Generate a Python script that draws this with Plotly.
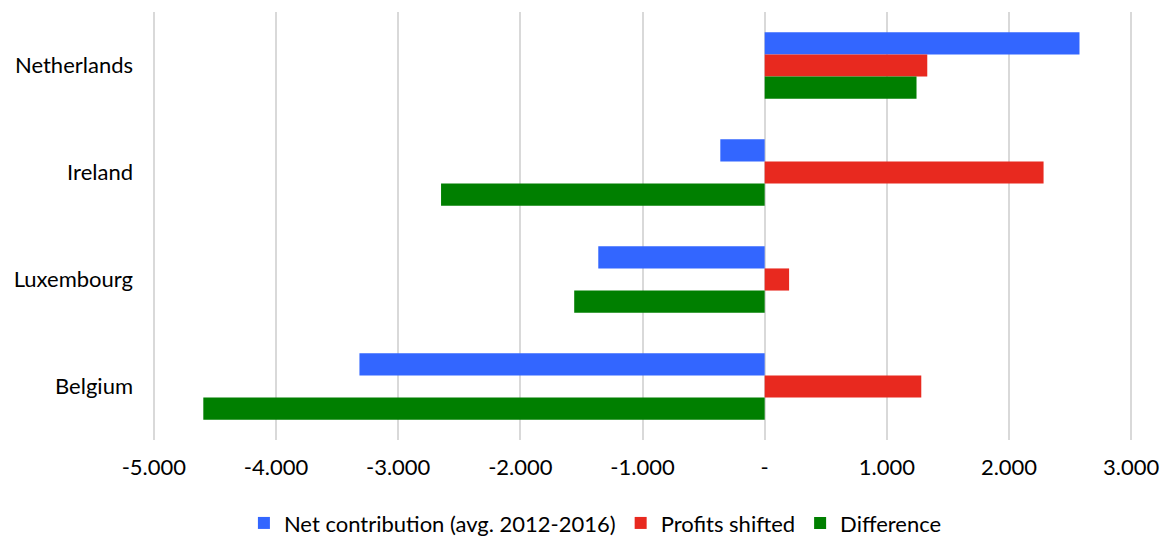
import plotly.graph_objects as go

countries = ["Netherlands", "Ireland", "Luxembourg", "Belgium"]
net_contribution = [2577, -363, -1362, -3317]
profits_shifted = [1331, 2283, 200, 1282]
difference = [1243, -2649, -1559, -4595]

tick_vals = [-5000, -4000, -3000, -2000, -1000, 0, 1000, 2000, 3000]
tick_text = ["-5.000", "-4.000", "-3.000", "-2.000", "-1.000", "-", "1.000", "2.000", "3.000"]

series = [
    ("Net contribution (avg. 2012-2016)", net_contribution, "#3366FF"),
    ("Profits shifted", profits_shifted, "#E8291F"),
    ("Difference", difference, "#007F00"),
]

fig = go.Figure()
for name, vals, color in series:
    fig.add_trace(go.Bar(
        y=countries, x=vals, name=name, orientation="h",
        marker=dict(color=color, line=dict(width=0)),
    ))

font_family = "Lato, 'Open Sans', sans-serif"

fig.update_layout(
    width=1168, height=536,
    margin=dict(l=152, r=35, t=12, b=96, autoexpand=False),
    paper_bgcolor="white", plot_bgcolor="white",
    barmode="group", bargap=0.38, bargroupgap=0,
    font=dict(family=font_family, size=22, color="#000000"),
    legend=dict(
        orientation="h", x=0.452, xanchor="center",
        yref="container", y=0.024, yanchor="middle",
        font=dict(size=22), itemwidth=30, tracegroupgap=0,
        traceorder="normal",
    ),
    xaxis=dict(
        range=[-5015, 3015], tickvals=tick_vals, ticktext=tick_text,
        showgrid=True, gridcolor="#D9D9D9", gridwidth=2,
        zeroline=False, showline=False, ticks="",
        ticklabelstandoff=12,
        tickfont=dict(size=22),
    ),
    yaxis=dict(
        categoryorder="array", categoryarray=countries, autorange="reversed",
        showgrid=False, zeroline=False, showline=False, ticks="",
        ticklabelstandoff=18,
        tickfont=dict(size=22),
    ),
)

fig.write_html("out.html")
